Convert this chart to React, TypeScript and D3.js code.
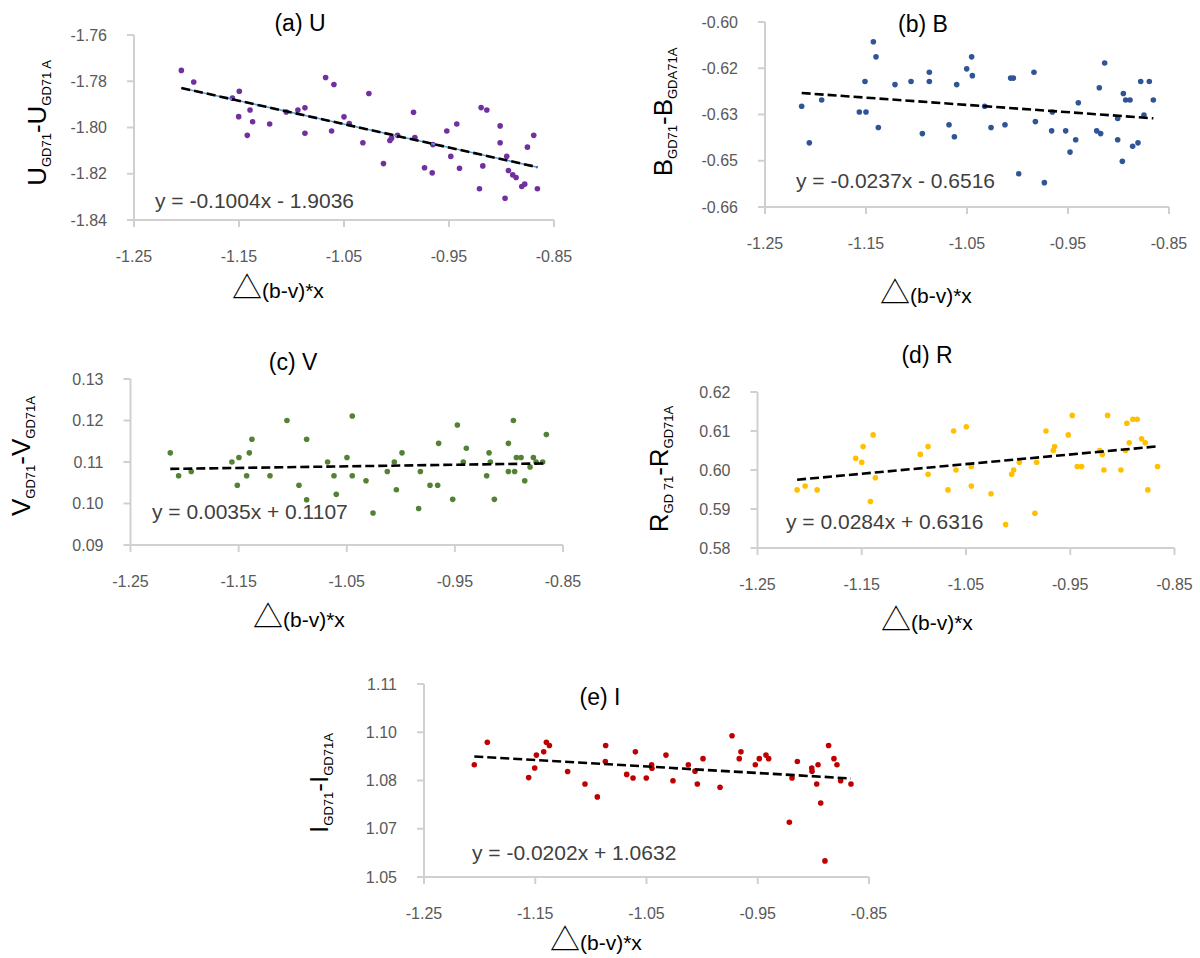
import React from "react";
import * as d3 from "d3";

const xTickValues = [-1.25, -1.15, -1.05, -0.95, -0.85];
const xTickLabels = ["-1.25", "-1.15", "-1.05", "-0.95", "-0.85"];

// (a) U
const uX = [-1.2049, -1.1931, -1.1497, -1.1563, -1.1395, -1.1503, -1.137, -1.1421, -1.1208, -1.105, -1.0939, -1.0872, -1.0872, -1.0675, -1.0596, -1.05, -1.045, -1.0618, -1.0263, -1.032, -1.0124, -1.0063, -1.0047, -0.999, -0.9838, -0.9825, -0.9733, -0.966, -0.9654, -0.9521, -0.9426, -0.9483, -0.94, -0.9194, -0.914, -0.9178, -0.921, -0.9013, -0.9013, -0.895, -0.8934, -0.8893, -0.8861, -0.8966, -0.8807, -0.8779, -0.8753, -0.8693, -0.8658];
const uY = [-1.7753, -1.7803, -1.7843, -1.7873, -1.7924, -1.7953, -1.7975, -1.8034, -1.7985, -1.7933, -1.7924, -1.7915, -1.8025, -1.7784, -1.7814, -1.7954, -1.7983, -1.8015, -1.7853, -1.8066, -1.8156, -1.8056, -1.8046, -1.8034, -1.7934, -1.8043, -1.8174, -1.8196, -1.8074, -1.8015, -1.7985, -1.8125, -1.8176, -1.7914, -1.7924, -1.8166, -1.8265, -1.7993, -1.8066, -1.8124, -1.8186, -1.8205, -1.8216, -1.8306, -1.8255, -1.8245, -1.8085, -1.8034, -1.8265];
const uTicks = [-1.84, -1.82, -1.8, -1.78, -1.76];
const uTickLabels = ["-1.84", "-1.82", "-1.80", "-1.78", "-1.76"];
const uEquation = "y = -0.1004x - 1.9036";

// (b) B
const bX = [-1.2137, -1.2061, -1.1939, -1.1566, -1.15, -1.151, -1.1427, -1.1401, -1.1378, -1.1213, -1.1054, -1.0942, -1.0873, -1.0873, -1.0678, -1.0625, -1.0602, -1.0503, -1.0454, -1.0447, -1.0325, -1.0262, -1.0124, -1.0068, -1.0041, -0.9988, -0.9837, -0.9823, -0.9734, -0.9655, -0.9662, -0.9523, -0.948, -0.9424, -0.9398, -0.9216, -0.9177, -0.919, -0.9137, -0.9008, -0.9008, -0.8962, -0.8952, -0.8929, -0.8886, -0.886, -0.8807, -0.878, -0.8748, -0.8695, -0.8655];
const bY = [-0.6273, -0.6392, -0.6253, -0.6292, -0.6292, -0.6193, -0.6064, -0.6113, -0.6342, -0.6203, -0.6193, -0.6362, -0.6163, -0.6193, -0.6333, -0.6372, -0.6203, -0.6152, -0.6113, -0.6174, -0.6273, -0.6342, -0.6333, -0.6182, -0.6182, -0.6492, -0.6163, -0.6323, -0.6521, -0.6292, -0.6353, -0.6353, -0.6422, -0.6382, -0.6262, -0.6353, -0.6362, -0.6213, -0.6133, -0.6313, -0.6382, -0.6452, -0.6232, -0.6253, -0.6253, -0.6403, -0.6392, -0.6193, -0.6302, -0.6193, -0.6253];
const bTicks = [-0.66, -0.645, -0.63, -0.615, -0.6];
const bTickLabels = ["-0.66", "-0.65", "-0.63", "-0.62", "-0.60"];
const bEquation = "y = -0.0237x - 0.6516";

// (c) V
const cX = [-1.2132, -1.2055, -1.1938, -1.1562, -1.1497, -1.1512, -1.1426, -1.1401, -1.1377, -1.121, -1.1053, -1.0942, -1.0871, -1.0871, -1.0677, -1.0618, -1.0597, -1.0498, -1.0449, -1.0449, -1.0322, -1.0257, -1.0125, -1.006, -1.0041, -0.9989, -0.9835, -0.9819, -0.973, -0.9659, -0.965, -0.952, -0.9477, -0.9422, -0.9394, -0.9206, -0.9184, -0.9172, -0.9135, -0.9005, -0.9005, -0.8959, -0.8947, -0.8931, -0.8888, -0.8854, -0.8805, -0.8774, -0.8749, -0.8688, -0.8654];
const cY = [0.1122, 0.1067, 0.1077, 0.11, 0.1111, 0.1044, 0.1067, 0.1122, 0.1155, 0.1067, 0.12, 0.1044, 0.1155, 0.1009, 0.11, 0.1067, 0.1022, 0.1111, 0.1211, 0.1067, 0.1055, 0.0977, 0.1077, 0.11, 0.1033, 0.1122, 0.0988, 0.1077, 0.1044, 0.1044, 0.1145, 0.101, 0.1189, 0.11, 0.1133, 0.1067, 0.1122, 0.11, 0.101, 0.1145, 0.1077, 0.12, 0.1077, 0.1111, 0.1111, 0.1055, 0.1088, 0.1111, 0.11, 0.11, 0.1166];
const cTicks = [0.09, 0.1, 0.11, 0.12, 0.13];
const cTickLabels = ["0.09", "0.10", "0.11", "0.12", "0.13"];
const cEquation = "y = 0.0035x + 0.1107";

// (d) R
const dX = [-1.212, -1.2043, -1.1928, -1.1558, -1.15, -1.1487, -1.1391, -1.1417, -1.1369, -1.0938, -1.0864, -1.0864, -1.0673, -1.0619, -1.0596, -1.0497, -1.0449, -1.0449, -1.026, -1.012, -1.0062, -1.0043, -0.9989, -0.9839, -0.9823, -0.9733, -0.9663, -0.965, -0.9519, -0.9481, -0.9433, -0.9391, -0.9216, -0.9193, -0.9177, -0.9142, -0.9014, -0.897, -0.8957, -0.8934, -0.8899, -0.8858, -0.8816, -0.8781, -0.8756, -0.8663];
const dY = [0.5949, 0.5959, 0.5949, 0.603, 0.602, 0.606, 0.609, 0.5919, 0.598, 0.604, 0.606, 0.5989, 0.5949, 0.61, 0.6, 0.6111, 0.5959, 0.6009, 0.5939, 0.586, 0.5989, 0.6, 0.602, 0.5889, 0.602, 0.61, 0.605, 0.606, 0.609, 0.614, 0.6009, 0.6009, 0.605, 0.604, 0.6, 0.614, 0.6, 0.605, 0.612, 0.607, 0.613, 0.613, 0.608, 0.607, 0.5949, 0.6009];
const dTicks = [0.58, 0.59, 0.6, 0.61, 0.62];
const dTickLabels = ["0.58", "0.59", "0.60", "0.61", "0.62"];
const dEquation = "y = 0.0284x + 0.6316";

// (e) I
const eX = [-1.2048, -1.1931, -1.1559, -1.1505, -1.149, -1.1424, -1.14, -1.1373, -1.1209, -1.1053, -1.0942, -1.0867, -1.087, -1.0678, -1.0621, -1.06, -1.0502, -1.0454, -1.0451, -1.0325, -1.0262, -1.0124, -1.0064, -1.0043, -0.9992, -0.9839, -0.9731, -0.9666, -0.9651, -0.9522, -0.9486, -0.9426, -0.9402, -0.9216, -0.9192, -0.9144, -0.9015, -0.9012, -0.897, -0.8958, -0.8934, -0.8896, -0.8863, -0.8815, -0.8788, -0.8755, -0.8662];
const eY = [1.0849, 1.0919, 1.0809, 1.0839, 1.0879, 1.0889, 1.0919, 1.0909, 1.0828, 1.0789, 1.0749, 1.0909, 1.0859, 1.0819, 1.0808, 1.0889, 1.0808, 1.0849, 1.0838, 1.0879, 1.0799, 1.0849, 1.0829, 1.0789, 1.0868, 1.0779, 1.0939, 1.0868, 1.0889, 1.0849, 1.0868, 1.0879, 1.0868, 1.067, 1.0808, 1.0859, 1.0839, 1.0829, 1.0789, 1.0849, 1.073, 1.055, 1.0909, 1.0868, 1.0849, 1.0799, 1.0789];
const eTicks = [1.05, 1.065, 1.08, 1.095, 1.11];
const eTickLabels = ["1.05", "1.07", "1.08", "1.10", "1.11"];
const eEquation = "y = -0.0202x + 1.0632";

const FONT = "'Liberation Sans', Arial, sans-serif";
const AXIS = "#D0D0D0";

const panels = [
  { title: "(a) U", letter: "U", sub1: "GD71", sub2: "GD71 A", xs: uX, ys: uY, ticks: uTicks, labels: uTickLabels, eq: uEquation, color: "#7030A0", blueUnder: true,
    left: 134, right: 554, top: 35, bottom: 220, titleX: 300, titleY: 31, eqX: 155, eqY: 208, yTitleX: 46, yTitleY: 123, xTitleX: 232, xTitleY: 298 },
  { title: "(b) B", letter: "B", sub1: "GD71", sub2: "GDA71A", xs: bX, ys: bY, ticks: bTicks, labels: bTickLabels, eq: bEquation, color: "#2F5597", blueUnder: false,
    left: 765, right: 1169, top: 22, bottom: 207, titleX: 923, titleY: 32, eqX: 796, eqY: 188, yTitleX: 672, yTitleY: 112, xTitleX: 880, xTitleY: 303 },
  { title: "(c) V", letter: "V", sub1: "GD71", sub2: "GD71A", xs: cX, ys: cY, ticks: cTicks, labels: cTickLabels, eq: cEquation, color: "#548235", blueUnder: false,
    left: 130.5, right: 563, top: 379, bottom: 545, titleX: 293, titleY: 370, eqX: 152, eqY: 519, yTitleX: 30, yTitleY: 456, xTitleX: 253, xTitleY: 627 },
  { title: "(d) R", letter: "R", sub1: "GD 71", sub2: "GD71A", xs: dX, ys: dY, ticks: dTicks, labels: dTickLabels, eq: dEquation, color: "#FFC000", blueUnder: false,
    left: 757.5, right: 1174.5, top: 392, bottom: 548, titleX: 927, titleY: 363, eqX: 786, eqY: 529, yTitleX: 668, yTitleY: 469, xTitleX: 881, xTitleY: 630 },
  { title: "(e) I", letter: "I", sub1: "GD71", sub2: "GD71A", xs: eX, ys: eY, ticks: eTicks, labels: eTickLabels, eq: eEquation, color: "#C00000", blueUnder: false,
    left: 424, right: 869, top: 684, bottom: 877, titleX: 600, titleY: 705, eqX: 472, eqY: 860, yTitleX: 328, yTitleY: 783, xTitleX: 550, xTitleY: 950 },
];

function fit(xs: number[], ys: number[]) {
  const mx = d3.mean(xs) as number;
  const my = d3.mean(ys) as number;
  const sxy = d3.sum(xs, (v, i) => (v - mx) * (ys[i] - my));
  const sxx = d3.sum(xs, (v) => (v - mx) * (v - mx));
  const slope = sxy / sxx;
  return { slope, intercept: my - slope * mx };
}

function Panel({ p }: { p: (typeof panels)[number] }) {
  const x = d3.scaleLinear().domain([-1.25, -0.85]).range([p.left, p.right]);
  const y = d3.scaleLinear().domain([p.ticks[0], p.ticks[p.ticks.length - 1]]).range([p.bottom, p.top]);
  const { slope, intercept } = fit(p.xs, p.ys);
  const ends = d3.extent(p.xs) as [number, number];
  const trend = d3.line<number>().x((v) => x(v)).y((v) => y(slope * v + intercept))(ends) || "";

  return (
    <g>
      {/* axes */}
      <line x1={p.left} x2={p.left} y1={y(p.ticks[p.ticks.length - 1])} y2={p.bottom} stroke={AXIS} strokeWidth={2} />
      <line x1={p.left} x2={p.right} y1={p.bottom} y2={p.bottom} stroke={AXIS} strokeWidth={2} />
      {p.ticks.map((t, i) => (
        <g key={`y${i}`}>
          <line x1={p.left - 7} x2={p.left} y1={y(t)} y2={y(t)} stroke={AXIS} strokeWidth={2} />
          <text x={p.left - 27} y={y(t)} textAnchor="end" dominantBaseline="central" fontSize={16} fill="#595959">
            {p.labels[i]}
          </text>
        </g>
      ))}
      {xTickValues.map((t, i) => (
        <g key={`x${i}`}>
          <line x1={x(t)} x2={x(t)} y1={p.bottom} y2={p.bottom + 7} stroke={AXIS} strokeWidth={2} />
          <text x={x(t)} y={p.bottom + 42} textAnchor="middle" fontSize={16} fill="#595959">
            {xTickLabels[i]}
          </text>
        </g>
      ))}

      {/* points */}
      {p.xs.map((v, i) => (
        <circle key={i} cx={x(v)} cy={y(p.ys[i])} r={2.8} fill={p.color} />
      ))}

      {/* trendline */}
      {p.blueUnder && <path d={trend} stroke="#5B9BD5" strokeWidth={1.5} fill="none" />}
      <path d={trend} stroke="#000" strokeWidth={2.6} strokeDasharray="9 4" fill="none" />

      <text x={p.eqX} y={p.eqY} fontSize={21} fill="#404040">{p.eq}</text>

      <text x={p.titleX} y={p.titleY} textAnchor="middle" fontSize={23} fill="#000">{p.title}</text>

      <text transform={`translate(${p.yTitleX},${p.yTitleY}) rotate(-90)`} textAnchor="middle" fontSize={26} fill="#000">
        {p.letter}
        <tspan fontSize={13} dy={5}>{p.sub1}</tspan>
        <tspan fontSize={26} dy={-5}>-{p.letter}</tspan>
        <tspan fontSize={13} dy={5}>{p.sub2}</tspan>
      </text>

      <text x={p.xTitleX} y={p.xTitleY} fontSize={21} fill="#000">
        <tspan fontFamily="'Noto Sans CJK JP', 'DejaVu Sans'" fontSize={30}>△</tspan>
        <tspan>(b-v)*x</tspan>
      </text>
    </g>
  );
}

export default function App() {
  return (
    <svg
      width={1200}
      height={958}
      style={{ position: "absolute", left: 0, top: 0, background: "#fff" }}
      fontFamily={FONT}
    >
      <rect width={1200} height={958} fill="#fff" />
      {panels.map((p, i) => (
        <Panel key={i} p={p} />
      ))}
    </svg>
  );
}
